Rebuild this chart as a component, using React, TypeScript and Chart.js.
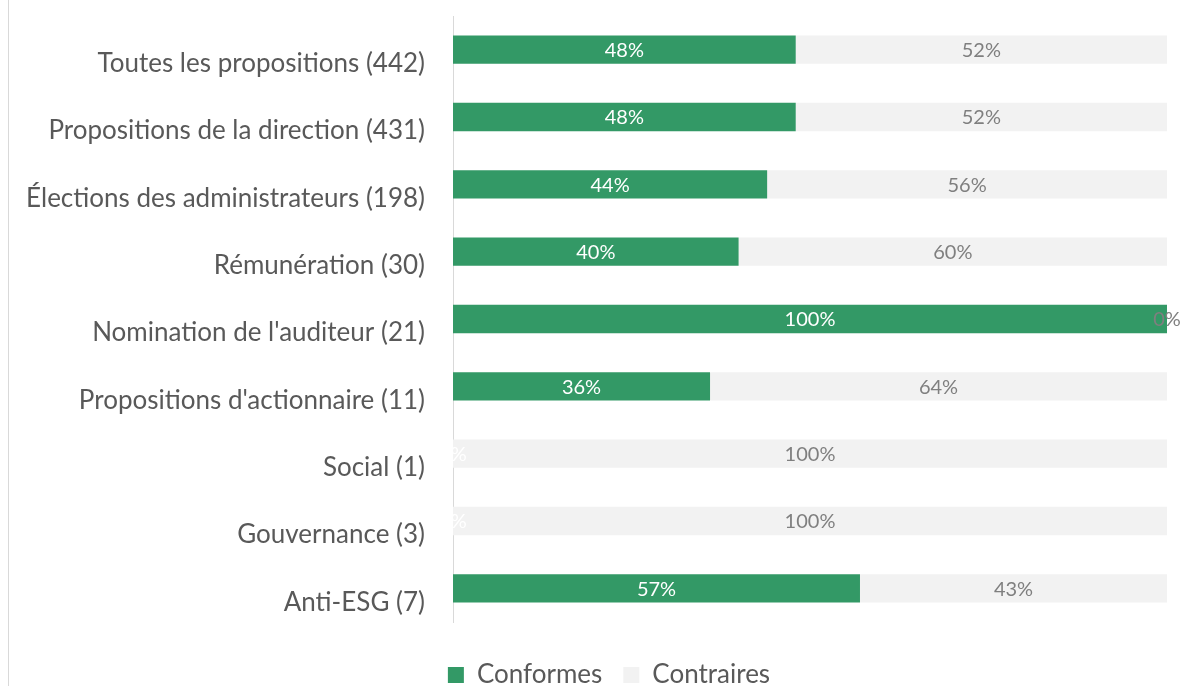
import React, { useEffect, useRef } from "react";
import { Chart, registerables } from "chart.js";

Chart.register(...registerables);

const categories = [
  "Toutes les propositions (442)",
  "Propositions de la direction (431)",
  "Élections des administrateurs (198)",
  "Rémunération (30)",
  "Nomination de l'auditeur (21)",
  "Propositions d'actionnaire (11)",
  "Social (1)",
  "Gouvernance (3)",
  "Anti-ESG (7)",
];
const conformes = [48, 48, 44, 40, 100, 36, 0, 0, 57];
const contraires = [52, 52, 56, 60, 0, 64, 100, 100, 43];
const seriesNames = ["Conformes", "Contraires"];

const GREEN = "#339966";
const LIGHT = "#f2f2f2";
const FONT = "Lato";

const labelPlugin = {
  id: "barValueLabels",
  afterDatasetsDraw(chart: any) {
    const ctx = chart.ctx;
    ctx.save();
    ctx.font = `20px ${FONT}`;
    ctx.textAlign = "center";
    ctx.textBaseline = "middle";
    chart.data.datasets.forEach((ds: any, di: number) => {
      const meta = chart.getDatasetMeta(di);
      ctx.fillStyle = di === 0 ? "#ffffff" : "#7f7f7f";
      meta.data.forEach((el: any, i: number) => {
        const p = el.getProps(["x", "y", "base"], true);
        const cx = (p.x + p.base) / 2;
        ctx.fillText(`${ds.data[i]}%`, cx, p.y + 1);
      });
    });
    ctx.restore();
  },
};

// shift the bottom legend so it sits under the plot, like the original
const legendShift = {
  id: "legendShift",
  afterLayout(chart: any) {
    if (chart.legend) {
      chart.legend.left += 51;
    }
  },
};

export default function App() {
  const ref = useRef<HTMLCanvasElement>(null);
  useEffect(() => {
    if (!ref.current) return;
    const chart = new Chart(ref.current, {
      type: "bar",
      data: {
        labels: categories,
        datasets: [
          {
            label: seriesNames[0],
            data: conformes,
            backgroundColor: GREEN,
            borderWidth: 0,
            categoryPercentage: 1,
            barPercentage: 0.42,
          },
          {
            label: seriesNames[1],
            data: contraires,
            backgroundColor: LIGHT,
            borderWidth: 0,
            categoryPercentage: 1,
            barPercentage: 0.42,
          },
        ],
      },
      options: {
        indexAxis: "y",
        animation: false,
        responsive: false,
        maintainAspectRatio: false,
        layout: { padding: { left: 0, right: 17, top: 16, bottom: 2 } },
        scales: {
          x: {
            stacked: true,
            min: 0,
            max: 100,
            grid: { display: false },
            border: { display: false },
            ticks: { display: false },
            afterFit: (s: any) => {
              s.height = 19;
              s.paddingLeft = 0;
              s.paddingRight = 0;
            },
          },
          y: {
            stacked: true,
            grid: { display: false, drawTicks: false },
            border: { display: true, color: "#d9d9d9", width: 1 },
            ticks: {
              color: "#595959",
              font: { family: FONT, size: 26 },
              padding: 28,
              labelOffset: 14,
            },
            afterFit: (s: any) => {
              s.width = 453;
              s.paddingTop = 0;
              s.paddingBottom = 0;
            },
          },
        },
        plugins: {
          legend: {
            position: "bottom",
            labels: {
              color: "#595959",
              font: { family: FONT, size: 26 },
              boxWidth: 16,
              boxHeight: 16,
              padding: 21,
            },
          },
          tooltip: { enabled: false },
        },
      },
      plugins: [labelPlugin, legendShift],
    });
    return () => chart.destroy();
  }, []);
  return (
    <div
      style={{
        position: "absolute",
        left: 0,
        top: 0,
        width: 1184,
        height: 686,
        overflow: "hidden",
        background: "#ffffff",
      }}
    >
      <canvas ref={ref} width={1184} height={700} style={{ display: "block" }} />
      <div
        style={{
          position: "absolute",
          left: 8,
          top: 0,
          width: 1,
          height: 686,
          background: "#d9d9d9",
        }}
      />
    </div>
  );
}
